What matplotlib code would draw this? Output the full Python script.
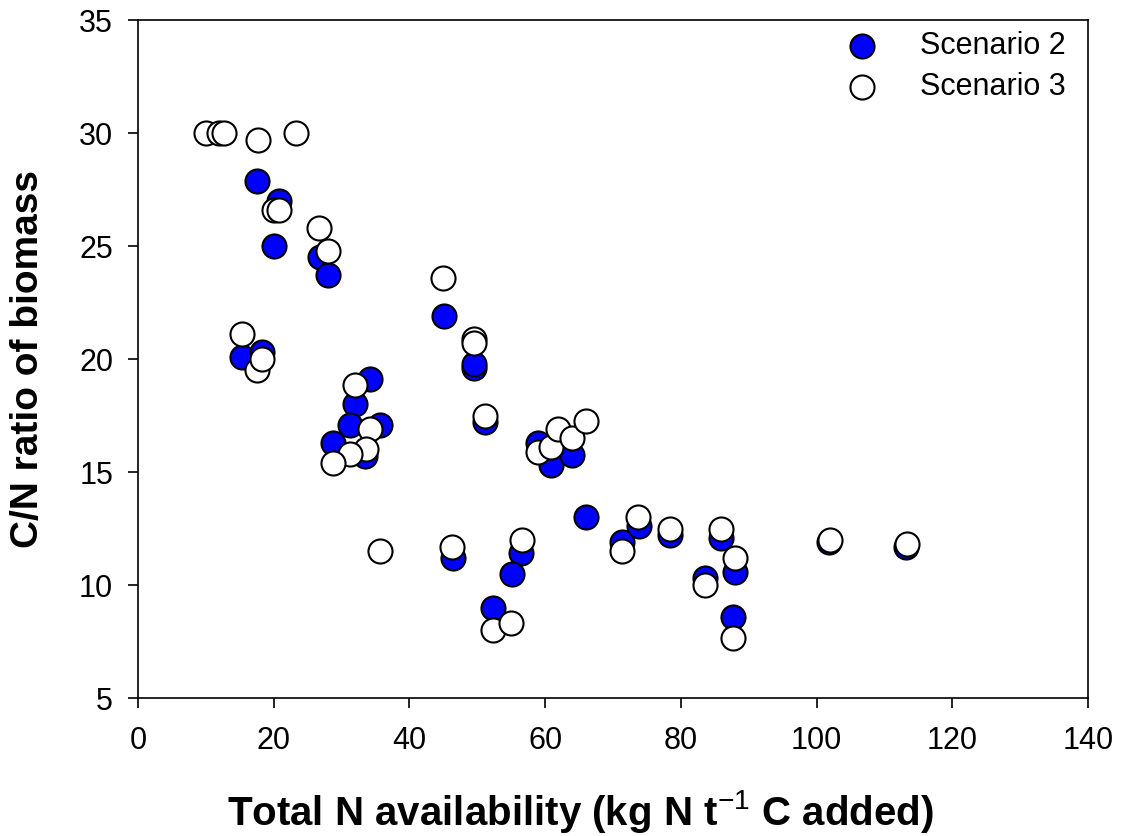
import matplotlib
matplotlib.use("Agg")
import matplotlib.pyplot as plt

plt.rcParams['font.family'] = ['Liberation Sans', 'DejaVu Sans']
plt.rcParams['mathtext.fontset'] = 'custom'
plt.rcParams['mathtext.rm'] = 'Liberation Sans'
plt.rcParams['mathtext.bf'] = 'Liberation Sans:bold'

# Scenario 2 (filled blue)
s2_x = [17.5, 20.8, 20.0, 26.8, 28.0, 15.3, 18.3, 34.2, 32.0, 31.2, 35.7, 28.7, 33.5,
        45.1, 49.5, 49.5, 51.1, 59.0, 60.9, 64.0, 66.0, 71.3, 73.8, 78.4, 85.9, 83.6,
        88.0, 87.7, 101.8, 113.2, 46.4, 56.4, 55.1, 52.3]
s2_y = [27.9, 27.0, 25.0, 24.5, 23.7, 20.1, 20.3, 19.1, 18.0, 17.1, 17.1, 16.3, 15.7,
        21.9, 19.6, 19.8, 17.2, 16.3, 15.3, 15.75, 13.0, 11.9, 12.6, 12.2, 12.1, 10.3,
        10.6, 8.6, 11.9, 11.7, 11.2, 11.4, 10.5, 9.0]

# Scenario 3 (open white)
s3_x = [10.0, 11.9, 12.7, 17.7, 23.3, 20.0, 20.8, 26.7, 28.0, 45.0, 49.5, 49.5, 51.1,
        15.3, 17.5, 18.3, 32.0, 34.2, 33.6, 31.2, 28.7, 35.7, 46.3, 56.6, 52.3, 55.0,
        59.0, 60.9, 61.9, 64.0, 66.0, 71.3, 73.7, 78.4, 85.9, 83.6, 88.0, 87.7, 102.0, 113.3]
s3_y = [30.0, 30.0, 30.0, 29.7, 30.0, 26.6, 26.6, 25.8, 24.8, 23.6, 20.9, 20.7, 17.5,
        21.1, 19.5, 20.0, 18.85, 16.9, 16.0, 15.8, 15.4, 11.5, 11.7, 12.0, 8.0, 8.3,
        15.9, 16.1, 16.9, 16.5, 17.25, 11.5, 13.0, 12.5, 12.5, 10.0, 11.2, 7.65, 12.0, 11.8]

x_ticks = [0, 20, 40, 60, 80, 100, 120, 140]
y_ticks = [5, 10, 15, 20, 25, 30, 35]

fig = plt.figure(figsize=(11.25, 8.36), dpi=100)
ax = fig.add_axes([0.1227, 0.165, 0.8444, 0.811])

ax.scatter(s2_x, s2_y, s=300, c='#0000ff', edgecolors='black', linewidths=1.5,
           label='Scenario 2', zorder=3)
ax.scatter(s3_x, s3_y, s=300, c='white', edgecolors='black', linewidths=1.5,
           label='Scenario 3', zorder=4)

ax.set_xlim(0, 140)
ax.set_ylim(5, 35)
ax.set_xticks(x_ticks)
ax.set_yticks(y_ticks)
ax.tick_params(axis='both', labelsize=22, direction='out', length=7, width=1.2)
ax.tick_params(axis='x', pad=13)
ax.tick_params(axis='y', pad=11)
for sp in ax.spines.values():
    sp.set_linewidth(1.2)

ax.set_xlabel(r'Total N availability (kg N t$^{\mathrm{-1}}$ C added)',
              fontsize=29, fontweight='bold', va='center')
ax.xaxis.set_label_coords((580 - 138) / 950, (698 - 811) / 678)
ax.set_ylabel('C/N ratio of biomass', fontsize=28, fontweight='bold', va='center')
ax.yaxis.set_label_coords((28 - 138) / 950, 0.5)

ax.legend(loc='upper left', frameon=False, fontsize=22, handletextpad=1.4,
          handlelength=1.0, borderpad=0, borderaxespad=0, labelspacing=0.36,
          markerscale=1.0, bbox_to_anchor=(846.7 / 1125, 1 - 31 / 836),
          bbox_transform=fig.transFigure)

fig.savefig('out.png', dpi=100)
